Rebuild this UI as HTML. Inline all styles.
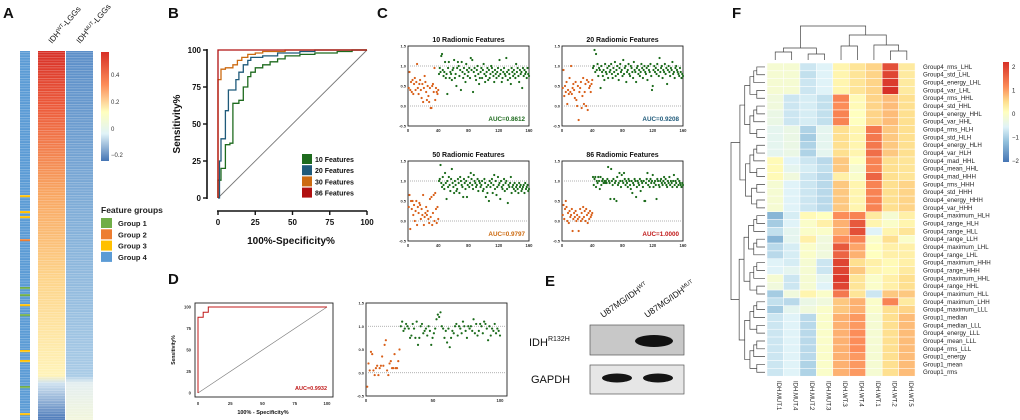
<!DOCTYPE html>
<html><head><meta charset="utf-8"><style>
html,body{margin:0;padding:0;background:#fff;}
svg{display:block;font-family:"Liberation Sans",sans-serif;}
</style></head><body>
<svg id="fig" width="1020" height="420" viewBox="0 0 1020 420" xmlns="http://www.w3.org/2000/svg">
<defs>
<linearGradient id="gWT" x1="0" y1="51" x2="0" y2="420" gradientUnits="userSpaceOnUse">
<stop offset="0" stop-color="#d73027"/><stop offset="0.15" stop-color="#ec5a3a"/><stop offset="0.38" stop-color="#f8a460"/><stop offset="0.62" stop-color="#fdd48a"/><stop offset="0.88" stop-color="#fff3b8"/><stop offset="0.9" stop-color="#cfe2f0"/><stop offset="1" stop-color="#4a78b8"/>
</linearGradient>
<linearGradient id="gMUT" x1="0" y1="51" x2="0" y2="420" gradientUnits="userSpaceOnUse">
<stop offset="0" stop-color="#5b8ec8"/><stop offset="0.5" stop-color="#86b2da"/><stop offset="0.88" stop-color="#a9cbe6"/><stop offset="0.9" stop-color="#e4eef0"/><stop offset="1" stop-color="#f2f6dc"/>
</linearGradient>
<linearGradient id="gCB" x1="0" y1="0" x2="0" y2="1">
<stop offset="0" stop-color="#d73027"/><stop offset="0.3" stop-color="#fc8d59"/><stop offset="0.55" stop-color="#ffffbf"/><stop offset="0.75" stop-color="#e0f3f8"/><stop offset="1" stop-color="#4575b4"/>
</linearGradient>
<linearGradient id="gCBF" x1="0" y1="0" x2="0" y2="1">
<stop offset="0" stop-color="#d73027"/><stop offset="0.25" stop-color="#fc8d59"/><stop offset="0.4" stop-color="#fee090"/><stop offset="0.5" stop-color="#ffffbf"/><stop offset="0.65" stop-color="#e0f3f8"/><stop offset="0.8" stop-color="#91bfdb"/><stop offset="1" stop-color="#4575b4"/>
</linearGradient>
<pattern id="stripes" width="4" height="2.6" patternUnits="userSpaceOnUse"><rect width="4" height="0.6" fill="#fff" opacity="0.35"/></pattern>
</defs>
<g id="root"></g>
</svg>
<script>
// ---------- DATA ----------
const aGroupStripesY=[195,211,216,239,287,294,304,314,350,360,386,413];
const aGroupStripesC=["y","y","y","o","g","g","y","g","y","y","g","y"];
const legendB=["10 Features","20 Features","30 Features","86 Features"];
const colorsB=["#1e6b1e","#1f5a7a","#cc6a10","#b01010"];
const roc10X=[0,0,2,2,5,5,8,8,10,10,14,14,17,17,20,20,22,22,25,25,30,30,35,35,40,40,45,45,55,55,65,65,80,80,90,90,100];
const roc10Y=[0,12,12,20,20,36,36,37,37,64,64,66,66,75,75,82,82,85,85,88,88,90,90,92,92,94,94,96,96,97,97,98,98,99,99,100,100];
const roc20X=[0,1,1,2,2,5,5,7,7,12,12,14,14,17,17,20,20,22,22,30,30,40,40,55,55,65,65,100];
const roc20Y=[0,0,25,25,40,40,59,59,73,73,80,80,85,85,90,90,93,93,95,95,96,96,98,98,99,99,100,100];
const roc30X=[0,0,2,2,5,5,10,10,13,13,16,16,20,20,25,25,30,30,45,45,100];
const roc30Y=[0,80,80,87,87,88,88,90,90,93,93,95,95,97,97,98,98,99,99,100,100];
const roc86X=[0,0,100];
const roc86Y=[0,100,100];
const rocDX=[0,0,4,4,8,8,100];
const rocDY=[0,88,88,94,94,100,100];
const ticksROC=[0,25,50,75,100];
const ticksScX=[0,40,80,120,160];
const ticksScY=[-0.5,0,0.5,1,1.5];
const titlesC=["10 Radiomic Features","20 Radiomic Features","50 Radiomic Features","86 Radiomic Features"];
const aucC=["AUC=0.8612","AUC=0.9208","AUC=0.9797","AUC=1.0000"];
const c1o=[0.45,0.85,0.4,0.6,0.35,0.65,0.3,0.55,0.7,0.4,0.6,1.05,0.45,0.3,0.55,0.65,0.4,0.2,0.55,0.1,0.45,0.75,0.6,0.35,0.15,0.5,0.25,0.1,0.45,-0.05,-0.05,0.5,0.55,0.35,0.95,0.15,0.45,0.35,0.3,0.4];
const c1g=[0.8,0.95,0.85,1.25,1.3,0.9,0.75,0.85,1.1,0.7,0.8,0.3,0.95,1.1,0.7,0.85,0.8,0.65,0.9,0.95,1.15,0.7,0.8,0.5,0.95,1.1,1.0,0.75,0.9,0.4,1.1,0.85,0.7,0.95,0.8,0.6,1.05,0.9,0.75,0.85,0.95,0.7,1.2,0.9,1.15,0.35,0.85,0.95,0.75,0.65,0.9,1.0,0.8,0.55,0.7,0.85,0.95,0.7,0.9,1.05,0.8,0.6,0.75,0.85,0.95,0.65,0.9,0.7,0.8,1.0,0.95,0.85,0.75,0.6,0.9,0.8,0.7,0.85,0.95,0.75,1.15,0.8,0.9,0.6,0.7,0.85,0.95,0.8,0.75,1.2,0.85,0.65,0.9,0.8,0.7,0.55,0.95,0.85,0.75,0.9,0.8,0.7,1.05,0.85,0.95,0.75,0.6,0.9,0.8,0.85,0.45,0.95,0.75,0.9,0.8,0.85,0.7,0.95,0.8,0.75];
const c2o=[0.45,0.9,0.25,0.5,0.35,0.6,0.05,0.4,0.3,0.7,0.35,1.0,0.3,0.45,0.55,0.4,0.2,0.6,0.15,0.0,0.5,-0.35,0.35,0.45,0.6,-0.05,0.25,0.7,0.05,0.35,0.55,0.0,0.65,-0.1,0.6,0.45,0.5,0.35,0.55,0.65];
const c2g=[0.95,1.0,1.4,0.85,1.3,0.9,1.05,0.75,0.95,0.9,0.45,1.0,0.85,0.75,0.9,0.65,1.05,0.85,0.8,0.95,0.7,1.0,0.85,0.9,1.05,0.8,0.7,0.95,0.85,1.1,0.75,0.9,1.0,0.8,0.65,0.95,1.05,0.85,0.9,0.75,1.15,0.8,0.95,1.0,0.6,0.85,0.9,1.05,0.8,0.75,1.0,0.95,0.85,0.7,1.1,0.9,0.85,0.6,0.95,1.0,0.8,0.9,0.75,0.85,1.05,0.95,0.7,0.9,1.0,0.85,0.8,0.95,0.65,1.0,0.9,0.85,1.05,0.75,0.4,0.5,0.9,1.0,0.85,0.95,0.8,1.05,0.9,0.75,1.2,0.85,0.95,1.0,0.7,0.9,0.85,1.05,0.8,0.95,0.55,0.9,1.0,0.85,0.75,0.95,0.9,1.1,0.8,0.85,0.7,0.95,1.0,0.9,0.85,0.8,0.75,0.95,0.85,0.7,0.8,0.75];
const c3o=[0.35,0.65,-0.2,0.5,0.3,0.5,0.15,0.4,0.0,0.25,0.5,-0.1,0.35,0.2,0.45,0.4,0.05,0.3,0.15,0.65,-0.1,0.1,0.2,0.35,0.15,0.25,0.05,-0.05,0.55,0.1,0.6,-0.1,0.2,0.65,0.0,0.7,0.3,-0.05,0.35,0.05];
const c3g=[1.0,1.05,1.4,0.95,0.85,1.1,0.9,0.8,1.2,0.95,0.55,1.0,0.85,1.1,0.9,0.75,1.05,1.3,0.95,0.85,0.7,1.0,0.9,0.75,0.8,1.05,0.95,0.7,1.1,1.0,0.9,0.85,0.6,1.05,0.95,0.8,1.0,0.6,0.9,1.1,0.85,0.95,1.2,1.05,0.9,0.8,1.15,1.0,0.95,0.85,0.9,1.05,0.75,1.0,0.95,0.85,0.9,1.0,0.75,0.8,1.05,0.95,0.6,0.85,0.7,0.9,0.5,1.0,0.85,0.95,1.05,0.7,0.9,1.15,0.8,1.0,0.65,0.85,1.1,0.9,0.95,0.55,1.0,0.85,0.8,0.9,1.05,0.75,0.95,1.0,0.8,0.45,0.9,0.85,0.95,1.1,0.7,0.85,0.9,0.8,0.95,0.75,0.85,0.9,0.8,0.7,0.95,0.85,0.9,0.75,0.8,0.85,0.9,0.7,0.95,0.8,0.85,0.9,0.75,0.8];
const c4o=[0.15,0.4,0.05,0.3,0.5,0.35,0.0,0.2,-0.05,0.25,0.1,0.15,0.3,-0.25,0.05,0.2,0.1,0.25,0.0,0.15,0.05,-0.25,0.1,0.3,0.0,0.2,0.05,0.35,0.1,0.25,0.0,0.3,0.15,-0.05,0.2,0.05,0.25,0.1,0.15,0.2];
const c4g=[1.1,0.9,1.05,1.1,0.85,1.0,0.95,1.1,1.0,0.8,1.1,0.9,1.0,1.05,0.95,1.0,0.95,1.0,0.95,1.05,1.35,1.0,0.95,0.55,1.3,1.0,0.9,1.05,0.55,0.95,1.0,0.5,1.1,0.9,0.95,1.2,1.0,0.85,1.15,1.0,0.95,1.2,1.05,0.9,1.0,0.95,0.85,1.05,1.0,0.9,0.8,1.0,0.7,0.95,0.9,1.05,1.0,0.6,0.85,1.0,0.95,0.9,1.05,0.75,1.0,0.95,0.85,1.0,0.5,0.5,0.95,1.05,1.2,0.9,1.0,0.85,1.05,0.95,1.0,1.15,0.85,0.95,1.0,0.9,0.55,1.05,1.0,0.9,0.85,1.0,1.05,0.95,0.9,1.0,1.1,0.95,1.05,0.9,0.85,1.0,0.95,1.1,0.9,1.0,0.95,0.85,1.0,1.15,0.9,1.0,0.95,0.85,1.05,0.9,1.0,0.95,0.9,0.85,0.95,0.9];
const dO=[-0.3,0.2,0.05,0.45,0.4,0.05,-0.05,0.1,0.15,-0.05,0.1,0.15,0.35,0.15,0.6,0.7,0.05,-0.05,0.2,0.25,0.1,0.1,0.4,0.1,0.1,0.25,0.5];
const dG=[1.0,1.1,0.9,0.95,1.05,1.0,0.95,0.75,0.8,1.05,0.95,0.75,1.1,0.6,0.75,1.0,1.05,0.85,0.9,0.95,0.8,1.0,0.9,0.6,0.75,0.85,0.95,1.15,1.25,1.2,1.3,1.0,0.95,0.75,0.9,0.65,0.95,0.55,0.75,0.9,0.85,1.0,1.05,0.8,1.0,0.95,0.85,1.1,1.0,0.9,0.75,1.0,0.95,1.0,0.9,1.15,0.85,1.05,0.8,0.9,1.05,1.0,0.85,1.1,1.05,0.95,0.7,1.0,0.8,0.95,0.9,1.05,0.85,0.95,0.9,0.8];
const eLanes=["U87MG/IDHWT","U87MG/IDHMUT"];
const fCols=["IDH.MUT.1","IDH.MUT.4","IDH.MUT.2","IDH.MUT.3","IDH.WT.3","IDH.WT.4","IDH.WT.1","IDH.WT.2","IDH.WT.5"];
const fRows=["Group4_rms_LHL","Group4_std_LHL","Group4_energy_LHL","Group4_var_LHL","Group4_rms_HHL","Group4_std_HHL","Group4_energy_HHL","Group4_var_HHL","Group4_rms_HLH","Group4_std_HLH","Group4_energy_HLH","Group4_var_HLH","Group4_mad_HHL","Group4_mean_HHL","Group4_mad_HHH","Group4_rms_HHH","Group4_std_HHH","Group4_energy_HHH","Group4_var_HHH","Group4_maximum_HLH","Group4_range_HLH","Group4_range_HLL","Group4_range_LLH","Group4_maximum_LHL","Group4_range_LHL","Group4_maximum_HHH","Group4_range_HHH","Group4_maximum_HHL","Group4_range_HHL","Group4_maximum_HLL","Group4_maximum_LHH","Group4_maximum_LLL","Group1_median","Group4_median_LLL","Group4_energy_LLL","Group4_mean_LLL","Group4_rms_LLL","Group1_energy","Group1_mean","Group1_rms"];
const fVals=[
[-0.2,-0.2,-0.8,-0.6,0.2,0.5,0.7,1.9,0.4],
[-0.2,-0.2,-0.9,-0.6,0.2,0.5,0.7,2.0,0.4],
[-0.2,-0.2,-0.8,-0.6,0.2,0.5,0.7,2.1,0.4],
[-0.2,-0.2,-0.8,-0.6,0.2,0.5,0.7,2.2,0.4],
[-0.3,-0.8,-0.7,-0.9,1.4,0.1,0.7,0.9,0.6],
[-0.3,-0.8,-0.7,-0.9,1.3,0.1,0.7,0.9,0.6],
[-0.4,-0.8,-0.7,-0.9,1.4,0.0,0.7,0.9,0.6],
[-0.4,-0.8,-0.7,-0.9,1.4,0.0,0.7,0.9,0.6],
[-0.5,-0.4,-1.1,-0.5,0.6,0.2,1.5,0.8,0.6],
[-0.5,-0.4,-1.2,-0.5,0.6,0.2,1.5,0.8,0.6],
[-0.5,-0.4,-1.1,-0.5,0.6,0.2,1.5,0.8,0.6],
[-0.5,-0.4,-1.1,-0.5,0.6,0.2,1.6,0.8,0.6],
[0.1,-0.6,-0.8,-1.0,0.8,0.0,1.4,0.6,0.5],
[0.1,-0.5,-0.7,-0.9,0.8,-0.2,1.4,0.6,0.5],
[0.1,-0.3,-0.8,-1.0,0.3,-0.1,1.7,0.6,0.5],
[-0.2,-0.6,-0.8,-1.0,0.8,0.2,1.4,0.6,0.7],
[-0.2,-0.6,-0.8,-1.0,0.8,0.2,1.4,0.6,0.7],
[-0.2,-0.6,-0.8,-1.0,0.8,0.2,1.4,0.6,0.7],
[-0.2,-0.6,-0.8,-1.0,0.8,0.2,1.4,0.6,0.7],
[-1.5,-0.7,0.1,0.0,1.3,1.4,0.4,-0.2,0.3],
[-1.2,-0.6,-0.1,0.3,1.0,1.8,0.2,-0.1,0.2],
[-0.9,-0.5,-0.1,-0.1,1.0,1.9,-0.6,0.2,0.5],
[-1.5,-0.5,0.3,-0.3,1.3,1.4,-0.1,0.6,-0.1],
[-1.0,-0.7,-0.1,-0.3,1.8,1.1,0.0,0.3,0.3],
[-1.0,-0.7,-0.1,-0.3,1.7,1.0,0.0,0.3,0.3],
[-0.6,-0.7,-0.2,-0.8,2.0,0.6,0.3,0.1,0.3],
[-0.6,-0.5,-0.2,-0.8,2.0,0.8,0.2,0.1,0.4],
[-0.2,-0.8,-0.2,-0.5,2.1,0.5,-0.1,0.3,0.6],
[-0.3,-0.8,-0.2,-0.6,2.0,0.5,-0.1,0.3,0.6],
[-1.2,-0.3,0.2,-0.1,1.5,0.5,-0.8,0.8,0.8],
[-0.9,-1.0,-0.4,-0.3,0.8,1.0,-0.1,1.4,0.4],
[-1.2,-0.5,-0.3,-0.1,0.8,1.0,-0.1,0.6,0.7],
[-0.8,-0.6,-1.0,-0.1,1.0,1.2,-0.2,0.6,0.9],
[-0.8,-0.6,-1.0,-0.1,1.0,1.2,-0.2,0.6,0.9],
[-0.8,-0.6,-1.0,-0.1,1.0,1.3,-0.2,0.6,0.9],
[-0.8,-0.6,-1.0,-0.1,1.0,1.3,-0.2,0.6,0.9],
[-0.8,-0.6,-1.0,-0.1,1.0,1.3,-0.2,0.6,0.9],
[-0.8,-0.6,-1.0,-0.1,1.0,1.2,-0.2,0.6,0.9],
[-0.8,-0.6,-1.1,-0.1,1.0,1.2,-0.2,0.6,0.9],
[-0.8,-0.6,-1.1,-0.1,1.0,1.2,-0.2,0.6,0.9]];
const fCbTicks=[2,1,0,-1,-2];

// ---------- HELPERS ----------
const NS="http://www.w3.org/2000/svg";
const root=document.getElementById("root");
function mk(tag,attrs,parent,text){const e=document.createElementNS(NS,tag);for(const k in attrs)e.setAttribute(k,attrs[k]);if(text!==undefined)e.textContent=text;(parent||root).appendChild(e);return e;}
function txt(x,y,s,size,opts,parent){const o=Object.assign({x:x,y:y,"font-size":size,fill:"#111"},opts||{});return mk("text",o,parent,s);}
function lin(d0,d1,r0,r1){return v=>r0+(v-d0)*(r1-r0)/(d1-d0);}

// ---------- PANEL LETTERS ----------
[["A",3,18],["B",168,18],["C",377,18],["D",168,284],["E",545,286],["F",732,18]].forEach(p=>{
 const t=txt(p[1],p[2],p[0],15,{"font-weight":"bold"});
 
 
});

// ---------- PANEL A ----------
const gA=mk("g",{});


mk("rect",{x:20,y:51,width:10,height:369,fill:"#5b9bd5"},gA);
const gcol={y:"#ffc000",o:"#ed7d31",g:"#70ad47"};
aGroupStripesY.forEach((y,i)=>{const r=mk("rect",{x:20,y:y,width:10,height:2.2,fill:gcol[aGroupStripesC[i]]},gA);
 
 });
mk("rect",{x:20,y:51,width:10,height:369,fill:"url(#stripes)"},gA);
mk("rect",{x:38,y:51,width:27,height:369,fill:"url(#gWT)"},gA);
mk("rect",{x:66,y:51,width:27,height:369,fill:"url(#gMUT)"},gA);
mk("rect",{x:38,y:51,width:55,height:369,fill:"url(#stripes)"},gA);
txt(50,44,"IDH",8,{transform:"rotate(-50 50 44)"},gA);
const la1=txt(0,0,"",8,{transform:"translate(50,44) rotate(-50)"},gA);
txt(52,44,"",8,{},gA);
gA.removeChild(gA.lastChild);gA.removeChild(la1);
gA.lastChild.remove();
function rotLabel(x,y,base,sup,tail,size,ang,parent){const t=mk("text",{x:0,y:0,"font-size":size,fill:"#111",transform:`translate(${x},${y}) rotate(${ang})`},parent);
 mk("tspan",{},t,base);mk("tspan",{"font-size":size*0.65,dy:-size*0.35},t,sup);if(tail)mk("tspan",{"font-size":size,dy:size*0.35},t,tail);return t;}
const lwt=rotLabel(52,44,"IDH","WT","-LGGs",8,-50,gA);


const lmut=rotLabel(80,44,"IDH","MUT","-LGGs",8,-50,gA);


const cbA=mk("rect",{x:101,y:52,width:8,height:109,fill:"url(#gCB)"},gA);


[["0.4",77],["0.2",104],["0",131],["−0.2",157]].forEach(t=>txt(111,t[1],t[0],6,{fill:"#333"},gA));
const lgA=mk("g",{},gA);


txt(101,213,"Feature groups",8.5,{"font-weight":"bold",fill:"#222"},lgA);
[["Group 1","#70ad47"],["Group 2","#ed7d31"],["Group 3","#ffc000"],["Group 4","#5b9bd5"]].forEach((g,i)=>{
 const e=mk("g",{},lgA);
 
 
 mk("rect",{x:101,y:218+i*11.3,width:11,height:10,fill:g[1]},e);
 txt(118,226+i*11.3,g[0],7.5,{"font-weight":"bold",fill:"#222"},e);
});

// ---------- PANEL B ----------
const gB=mk("g",{});


const bx=lin(0,100,218,367), by=lin(0,100,198,50);
mk("line",{x1:207,y1:49,x2:207,y2:199,stroke:"#111","stroke-width":1.6},gB);
mk("line",{x1:217,y1:211,x2:367,y2:211,stroke:"#111","stroke-width":1.6},gB);
ticksROC.forEach(t=>{
 mk("line",{x1:203,y1:by(t),x2:207,y2:by(t),stroke:"#111","stroke-width":1.4},gB);
 txt(201,by(t)+3,String(t),8,{"text-anchor":"end","font-weight":"bold"},gB);
 mk("line",{x1:bx(t),y1:211,x2:bx(t),y2:215,stroke:"#111","stroke-width":1.4},gB);
 txt(bx(t),225,String(t),8,{"text-anchor":"middle","font-weight":"bold"},gB);
});
txt(180,124,"Sensitivity%",10,{"text-anchor":"middle","font-weight":"bold",transform:"rotate(-90 180 124)"},gB);
txt(291,244,"100%-Specificity%",10,{"text-anchor":"middle","font-weight":"bold"},gB);
mk("line",{x1:bx(0),y1:by(0),x2:bx(100),y2:by(100),stroke:"#777","stroke-width":0.9},gB);
function rocPath(X,Y,fx,fy){return X.map((v,i)=>(i?"L":"M")+fx(v).toFixed(1)+","+fy(Y[i]).toFixed(1)).join("");}
[[roc10X,roc10Y],[roc20X,roc20Y],[roc30X,roc30Y],[roc86X,roc86Y]].forEach((r,i)=>{
 const p=mk("path",{d:rocPath(r[0],r[1],bx,by),fill:"none",stroke:colorsB[i],"stroke-width":1.3},gB);
 
 
});
legendB.forEach((l,i)=>{
 const e=mk("g",{},gB);
 
 
 mk("rect",{x:302,y:154+i*11.2,width:10,height:10,fill:colorsB[i]},e);
 txt(315,162+i*11.2,l,7,{"font-weight":"bold"},e);
});

// ---------- SCATTER helper ----------
function scatter(name,x0,x1,yTop,yBot,xmax,xt,orange,green,split,title,auc,aucColor,tfs){
 const g=mk("g",{});
 
 
 const sx=lin(0,xmax,x0,x1), sy=lin(1.5,-0.5,yTop,yBot);
 mk("rect",{x:x0,y:yTop,width:x1-x0+(name==="panel-d-scatter"?7:0),height:yBot-yTop,fill:"none",stroke:"#222","stroke-width":0.9},g);
 [0,1].forEach(v=>mk("line",{x1:x0,y1:sy(v),x2:x1+(name==="panel-d-scatter"?7:0),y2:sy(v),stroke:"#999","stroke-width":0.7,"stroke-dasharray":"1,1"},g));
 ticksScY.forEach(t=>txt(x0-2,sy(t)+1.5,t.toFixed(1),4,{"text-anchor":"end","font-weight":"bold",fill:"#333"},g));
 xt.forEach(t=>txt(sx(t),yBot+6,String(t),4.2,{"text-anchor":"middle","font-weight":"bold",fill:"#333"},g));
 orange.forEach((v,i)=>{const c=mk("circle",{cx:sx((i+1)*split/orange.length),cy:sy(v),r:1.1,fill:"#d9601a"},g);
  
  });
 green.forEach((v,i)=>{const c=mk("circle",{cx:sx(split+(i+1)*(xmax-split)/green.length),cy:sy(v),r:1.1,fill:"#1b6b1b"},g);
  
  });
 if(title) txt((x0+x1)/2,yTop-4,title,7,{"text-anchor":"middle","font-weight":"bold"},g);
 if(auc) txt(x1-4,yBot-5,auc,6.3,{"text-anchor":"end","font-weight":"bold",fill:aucColor},g);
}
const aucColors=["#1e6b1e","#1f5a7a","#cc6a10","#c01818"];
const cData=[[c1o,c1g],[c2o,c2g],[c3o,c3g],[c4o,c4g]];
const cPos=[[408,529,46,126],[562,683,46,126],[408,529,161,241],[562,683,161,241]];
cData.forEach((d,i)=>scatter("panel-c-scatter-"+(i+1),cPos[i][0],cPos[i][1],cPos[i][2],cPos[i][3],160,ticksScX,d[0],d[1],40,titlesC[i],aucC[i],aucColors[i]));

// ---------- PANEL D ----------
const gD=mk("g",{});


const dx=lin(0,100,198,327), dy=lin(0,100,393,307);
mk("rect",{x:195,y:303,width:138,height:94,fill:"none",stroke:"#222","stroke-width":0.9},gD);
ticksROC.forEach(t=>{
 txt(191,dy(t)+1.5,String(t),4.2,{"text-anchor":"end","font-weight":"bold",fill:"#333"},gD);
 txt(dx(t),405,String(t),4.2,{"text-anchor":"middle","font-weight":"bold",fill:"#333"},gD);
});
txt(175,350,"Sensitivity%",5,{"text-anchor":"middle","font-weight":"bold",transform:"rotate(-90 175 350)"},gD);
txt(263,414,"100% - Specificity%",5.5,{"text-anchor":"middle","font-weight":"bold"},gD);
mk("line",{x1:dx(0),y1:dy(0),x2:dx(100),y2:dy(100),stroke:"#777","stroke-width":0.6},gD);
const pD=mk("path",{d:rocPath(rocDX,rocDY,dx,dy),fill:"none",stroke:"#c01818","stroke-width":1},gD);


txt(327,390,"AUC=0.9932",5.5,{"text-anchor":"end","font-weight":"bold",fill:"#c01818"},gD);
scatter("panel-d-scatter",366,500,303,396,100,[0,50,100],dO,dG,25,null,null,null);

// ---------- PANEL E ----------
const gE=mk("g",{});


rotLabel(603,318,"U87MG/IDH","WT","",8.5,-35,gE);
rotLabel(647,318,"U87MG/IDH","MUT","",8.5,-35,gE);
const b1=mk("rect",{x:590,y:325,width:94,height:30,fill:"#c8c8c8",stroke:"#555","stroke-width":0.7},gE);


mk("ellipse",{cx:654,cy:341,rx:19,ry:6,fill:"#111"},gE);
const b2=mk("rect",{x:590,y:365,width:94,height:29,fill:"#e6e6e6",stroke:"#555","stroke-width":0.7},gE);


mk("ellipse",{cx:617,cy:378,rx:15,ry:4.5,fill:"#151515"},gE);
mk("ellipse",{cx:658,cy:378,rx:15,ry:4.5,fill:"#151515"},gE);
const tI=mk("text",{x:529,y:346,"font-size":11,fill:"#111"},gE);
mk("tspan",{},tI,"IDH");mk("tspan",{"font-size":7,dy:-5},tI,"R132H");
txt(531,383,"GAPDH",11,{},gE);

// ---------- PANEL F ----------
const gF=mk("g",{});


const fx0=767, fcw=16.45, fy0=63, frh=7.83;
const stops=[[-2.2,[69,117,180]],[-1.4,[145,191,219]],[-0.6,[224,243,248]],[0,[255,255,191]],[0.6,[254,224,144]],[1.3,[252,141,89]],[2.2,[215,48,39]]];
function colr(v){if(v<=stops[0][0])return`rgb(${stops[0][1]})`;for(let i=1;i<stops.length;i++){if(v<=stops[i][0]){const a=stops[i-1],b=stops[i],t=(v-a[0])/(b[0]-a[0]);return"rgb("+a[1].map((c,k)=>Math.round(c+(b[1][k]-c)*t)).join(",")+")";}}return`rgb(${stops[stops.length-1][1]})`;}
fVals.forEach((row,r)=>row.forEach((v,c)=>{
 const cell=mk("rect",{x:fx0+c*fcw,y:fy0+r*frh,width:fcw,height:frh,fill:colr(v),stroke:"#fff","stroke-width":0.5},gF);
 
 
}));
fRows.forEach((n,r)=>txt(923,fy0+r*frh+frh*0.75,n,6.2,{fill:"#222"},gF));
fCols.forEach((n,c)=>{const x=fx0+c*fcw+fcw/2+2;txt(x,381,n,6,{fill:"#222",transform:`rotate(90 ${x} 381)`},gF);});
const cbF=mk("rect",{x:1003,y:62,width:6,height:100,fill:"url(#gCBF)"},gF);


fCbTicks.forEach((t,i)=>txt(1012,69+i*23.5,t<0?"−"+(-t):String(t),6,{fill:"#222"},gF));
// column dendrogram
const cc=c=>fx0+c*fcw+fcw/2;
const dg=mk("g",{stroke:"#444","stroke-width":0.7,fill:"none"},gF);


function U(xa,ya,xb,yb,yt){mk("path",{d:`M${xa},${ya}V${yt}H${xb}V${yb}`},dg);}
U(cc(0),60,cc(1),60,52); U(cc(2),60,cc(3),60,54); U((cc(0)+cc(1))/2,52,(cc(2)+cc(3))/2,54,48);
U(cc(7),60,cc(8),60,51); U(cc(6),60,(cc(7)+cc(8))/2,51,45); U(cc(4),60,cc(5),60,46);
U((cc(4)+cc(5))/2,46,(cc(6)+(cc(7)+cc(8))/2)/2,45,35);
U((cc(1)+cc(2))/2+0.5,48,(cc(5)+cc(6))/2,35,26);
// row dendrogram (balanced approximation)
const rg=mk("g",{stroke:"#444","stroke-width":0.7,fill:"none"},gF);


function build(a,b){if(a===b)return{y:fy0+a*frh+frh/2,x:765};const m=Math.floor((a+b)/2);const L=build(a,m),R=build(m+1,b);const n=b-a+1;const x=765-Math.min(33,3+Math.log2(n)*5.2);mk("path",{d:`M${L.x},${L.y}H${x}V${R.y}H${R.x}`},rg);return{y:(L.y+R.y)/2,x:x};}
const t1=build(0,18),t2=build(19,39);
mk("path",{d:`M${t1.x},${t1.y}H731V${t2.y}H${t2.x}`},rg);
</script>
</body></html>
